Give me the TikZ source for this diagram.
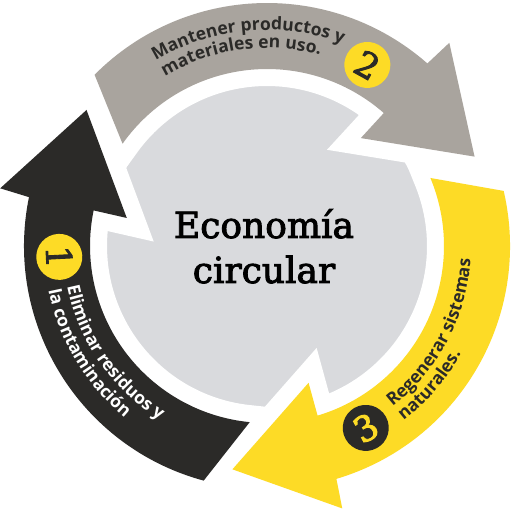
\documentclass[tikz,border=0pt]{standalone}
\usepackage{fontspec}
\setmainfont{DejaVu Serif}
\newfontfamily\titleserif{DejaVu Serif}[FakeBold=2.5]
\newfontfamily\labelsans{Open Sans}
\usetikzlibrary{decorations.text}

\definecolor{ringdark}{HTML}{2B2A28}
\definecolor{ringgray}{HTML}{A9A49E}
\definecolor{ringyellow}{HTML}{FDDB26}
\definecolor{discgray}{HTML}{D9DADD}

% one ring segment with its head, #1 = angle where the head starts
\newcommand{\ringarrow}[1]{({#1-96}:177) -- ({#1-86.5}:243)
  arc[start angle={#1-86.5}, end angle={#1}, radius=243]
  -- ({#1+0.6}:273) -- ({#1+25.4}:226) -- ({#1-0.3}:143) -- ({#1}:177)
  arc[start angle={#1}, end angle={#1-96}, radius=177] -- cycle}
\newcommand{\ringlabel}{\labelsans\bfseries\fontsize{17.5}{17.5}\selectfont}

\begin{document}
\begin{tikzpicture}[x=1pt, y=-1pt,
    gap/.style={draw=white, line width=34pt, line join=miter},
    numdot/.style={circle, minimum size=46pt, inner sep=0pt,
      font=\titleserif\fontsize{35}{35}\selectfont},
    curvetext/.style={decorate, decoration={text along path,
      text color=#1}},
    title/.style={anchor=base, font=\titleserif\fontsize{36}{36}\selectfont}]
	\useasboundingbox (0,0) rectangle (511,510);
	\fill[white] (0,0) rectangle (511,510);

	\begin{scope}[shift={(267,246)}]
	\fill[discgray] (0,0) circle (161);
	\foreach \h in {191.6,311.3,433.4}
		\draw[gap] \ringarrow{\h};
	\fill[ringdark] \ringarrow{191.6};
	\fill[ringgray] \ringarrow{311.3};
	\fill[ringyellow] \ringarrow{433.4};

	% labels along the ring
	\path[curvetext=ringdark, decoration={text={|\ringlabel|Mantener productos y}}]
		(239:216) arc[start angle=239, end angle=300, radius=216];
	\path[curvetext=ringdark, decoration={text={|\ringlabel|materiales en uso.}}]
		(239:198) arc[start angle=239, end angle=300, radius=198];
	\path[curvetext=white, decoration={text={|\ringlabel|Eliminar residuos y}}]
		(168.5:204) arc[start angle=168.5, end angle=100, radius=204];
	\path[curvetext=white, decoration={text={|\ringlabel|la contaminación}}]
		(168.5:223) arc[start angle=168.5, end angle=100, radius=223];
	\path[curvetext=ringdark, decoration={text={|\ringlabel|Regenerar sistemas}}]
		(52:204) arc[start angle=52, end angle=-20, radius=204];
	\path[curvetext=ringdark, decoration={text={|\ringlabel|naturales.}}]
		(52:222) arc[start angle=52, end angle=-20, radius=222];

	\node[numdot, fill=ringyellow, text=ringdark, rotate=-87] (one) at (177:208) {1};
	\node[numdot, fill=ringyellow, text=ringdark, rotate=-29] (two) at (299:207) {2};
	\node[numdot, fill=ringdark, text=ringyellow, rotate=28.5] (three) at (61.5:207) {3};
	\end{scope}

	\node[title] (eco) at (264,238) {Economía};
	\node[title] (circ) at (264,283) {circular};
\end{tikzpicture}
\end{document}
